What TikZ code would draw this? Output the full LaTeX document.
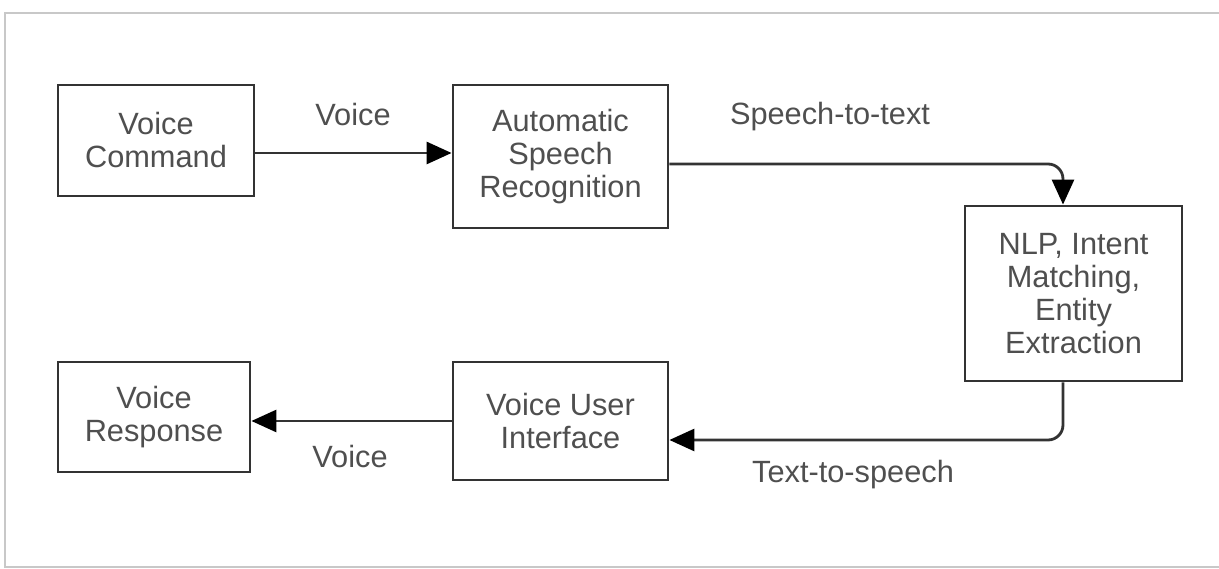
\documentclass[tikz,border=0pt]{standalone}
\usepackage{fontspec}
\setmainfont{Liberation Sans}
\usetikzlibrary{arrows.meta}
\definecolor{txtgray}{HTML}{4F4F4F}
\definecolor{linegray}{HTML}{333333}
\definecolor{framegray}{HTML}{C8C8C8}

\begin{document}
\begin{tikzpicture}[font=\fontsize{17.5}{18.8}\selectfont]
\tikzstyle{boxStyle}=[draw=linegray, line width=1.6pt, text=txtgray, align=center, inner sep=0pt]
\tikzstyle{flowStyle}=[draw=linegray, line width=1.6pt, rounded corners=0.3cm, -{Triangle[length=0.5cm, width=0.44cm, color=black, fill=black]}]
\tikzstyle{labelStyle}=[text=txtgray]
\useasboundingbox (0,0) rectangle (24.38,11.38);
\draw[framegray, line width=1.2pt] (0.1,0.04) rectangle (24.6,11.12);
% boxes
\node[boxStyle, minimum width=3.92cm, minimum height=2.22cm] (vc) at (3.12,8.57) {Voice\\Command};
\node[boxStyle, minimum width=4.30cm, minimum height=2.86cm] (asr) at (11.21,8.25) {Automatic\\Speech\\Recognition};
\node[boxStyle, minimum width=4.34cm, minimum height=3.50cm] (nlp) at (21.47,5.51) {NLP, Intent\\Matching,\\Entity\\Extraction};
\node[boxStyle, minimum width=4.30cm, minimum height=2.36cm] (vui) at (11.21,2.96) {Voice User\\Interface};
\node[boxStyle, minimum width=3.84cm, minimum height=2.20cm] (vr) at (3.08,3.04) {Voice\\Response};
% labels
\node[labelStyle] (l1) at (7.06,9.08) {Voice};
\node[labelStyle] (l2) at (16.6,9.04) {Speech-to-text};
\node[labelStyle] (l3) at (17.06,1.88) {Text-to-speech};
\node[labelStyle] (l4) at (7.0,2.24) {Voice};
% arrows
\draw[flowStyle] ([yshift=0.07cm]vc.east |- asr.west) -- ([yshift=0.07cm]asr.west);
\draw[flowStyle] ([yshift=-0.15cm]asr.east) -| ([xshift=-0.21cm]nlp.north);
\draw[flowStyle] ([xshift=-0.21cm]nlp.south) |- ([yshift=-0.38cm]vui.east);
\draw[flowStyle] (vui.west) -- (vui.west -| vr.east);
\end{tikzpicture}
\end{document}
